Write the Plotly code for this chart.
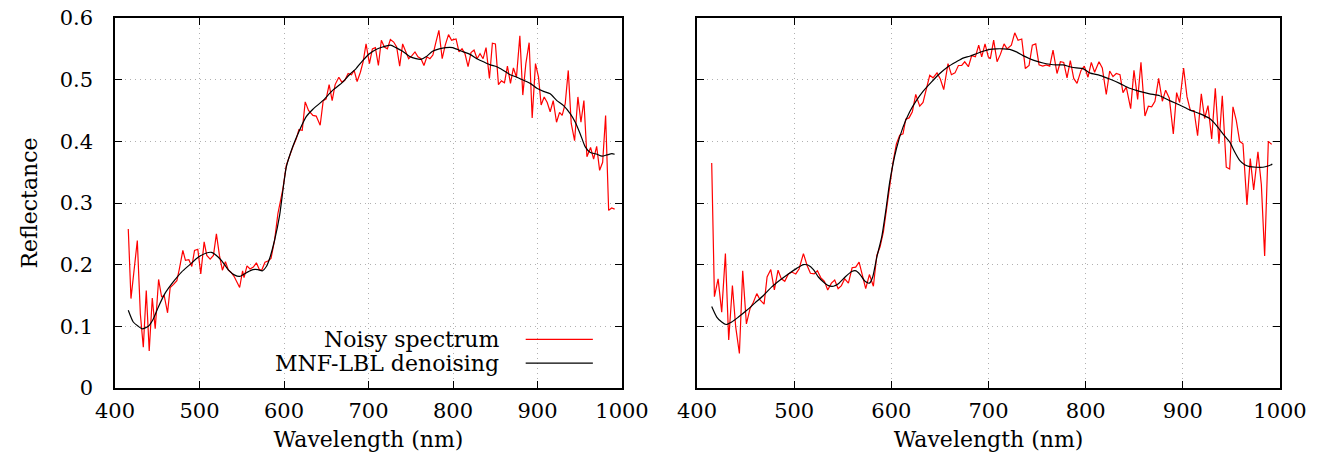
import plotly.graph_objects as go
from plotly.subplots import make_subplots

# ---------------- data ----------------
wl_left_noisy = [415.7, 418.9, 426.4, 430.0, 433.5, 437.0, 440.5, 444.1, 447.6, 451.6, 455.1, 458.2,
                 462.2, 465.3, 469.3, 473.2, 476.0, 480.3, 483.4, 487.4, 490.9, 494.1, 498.0, 501.5,
                 505.5, 508.6, 512.6, 516.5, 520.0, 523.6, 527.1, 530.7, 534.2, 537.7, 541.3, 544.8,
                 547.5, 551.0, 552.7, 556.2, 559.8, 563.7, 567.3, 570.8, 573.6, 577.5, 581.0, 584.6,
                 588.9, 592.8, 598.7, 602.7, 606.6, 610.5, 614.5, 617.6, 621.6, 625.1, 629.0, 634.2,
                 638.1, 642.8, 646.4, 649.9, 653.4, 657.0, 660.5, 664.9, 668.4, 671.9, 675.9, 679.8,
                 683.0, 686.5, 690.4, 693.6, 697.1, 701.1, 704.6, 708.1, 711.7, 715.2, 718.8, 722.3,
                 725.9, 729.8, 733.3, 736.9, 740.4, 744.0, 747.5, 751.4, 755.0, 758.5, 762.1, 765.6,
                 769.1, 772.7, 776.2, 779.8, 783.3, 787.2, 790.8, 794.7, 798.3, 803.6, 807.1, 810.7,
                 814.2, 817.8, 821.3, 824.9, 828.5, 832.0, 835.6, 839.1, 843.1, 846.6, 850.2, 853.8,
                 857.3, 860.9, 864.4, 868.0, 871.5, 875.1, 879.1, 882.6, 886.2, 890.1, 893.7, 897.6,
                 901.2, 904.3, 907.9, 911.5, 915.0, 918.6, 922.5, 926.1, 929.2, 932.8, 936.4, 939.9,
                 943.9, 947.8, 951.4, 954.9, 958.5, 962.8, 966.4, 970.0, 973.5, 977.1, 980.6, 984.2,
                 987.7, 991.3]
left_noisy = [0.258, 0.145, 0.239, 0.120, 0.066, 0.158, 0.060, 0.146, 0.096, 0.176, 0.148, 0.150,
              0.122, 0.163, 0.168, 0.174, 0.192, 0.223, 0.207, 0.208, 0.197, 0.223, 0.225, 0.185,
              0.237, 0.215, 0.209, 0.215, 0.250, 0.215, 0.191, 0.205, 0.191, 0.187, 0.180, 0.170,
              0.163, 0.190, 0.179, 0.198, 0.193, 0.196, 0.203, 0.192, 0.191, 0.204, 0.206, 0.210,
              0.240, 0.283, 0.323, 0.361, 0.377, 0.391, 0.404, 0.419, 0.418, 0.464, 0.450, 0.442,
              0.441, 0.426, 0.466, 0.469, 0.492, 0.466, 0.492, 0.504, 0.496, 0.499, 0.510, 0.508,
              0.515, 0.497, 0.512, 0.529, 0.558, 0.526, 0.550, 0.552, 0.523, 0.564, 0.553, 0.550,
              0.565, 0.561, 0.553, 0.522, 0.558, 0.545, 0.534, 0.539, 0.545, 0.537, 0.534, 0.523,
              0.537, 0.534, 0.540, 0.561, 0.580, 0.534, 0.556, 0.573, 0.564, 0.566, 0.545, 0.550,
              0.542, 0.521, 0.544, 0.548, 0.534, 0.542, 0.534, 0.552, 0.502, 0.559, 0.558, 0.492,
              0.498, 0.495, 0.522, 0.494, 0.519, 0.504, 0.571, 0.475, 0.526, 0.560, 0.438, 0.526,
              0.504, 0.459, 0.472, 0.463, 0.448, 0.466, 0.431, 0.447, 0.442, 0.461, 0.515, 0.429,
              0.401, 0.472, 0.431, 0.466, 0.375, 0.390, 0.371, 0.392, 0.353, 0.366, 0.442, 0.288,
              0.292, 0.290]

wl_left_denoised = [415.7, 421.6, 427.5, 432.3, 439.4, 445.3, 451.2, 459.0, 468.9, 478.7, 488.5, 498.4,
                    508.2, 514.1, 518.1, 525.9, 533.8, 541.7, 547.6, 555.5, 563.3, 569.2, 574.3, 579.1,
                    583.0, 588.9, 594.8, 602.7, 610.5, 618.4, 626.3, 634.2, 646.0, 657.8, 669.6, 677.4,
                    685.3, 693.2, 701.1, 708.9, 716.8, 725.9, 732.5, 740.4, 748.3, 756.2, 762.1, 768.0,
                    775.8, 783.7, 791.6, 799.4, 812.3, 820.2, 828.1, 836.0, 843.9, 851.8, 859.7, 867.6,
                    875.5, 883.4, 891.3, 899.2, 907.1, 915.0, 922.9, 930.8, 938.7, 944.7, 950.6, 956.5,
                    962.5, 970.4, 976.3, 982.2, 988.1, 991.3]
left_denoised = [0.126, 0.107, 0.100, 0.096, 0.100, 0.112, 0.131, 0.153, 0.172, 0.188, 0.200, 0.212,
                 0.219, 0.220, 0.217, 0.207, 0.192, 0.183, 0.181, 0.187, 0.192, 0.192, 0.190, 0.197,
                 0.210, 0.240, 0.280, 0.358, 0.392, 0.418, 0.440, 0.452, 0.466, 0.483, 0.496, 0.508,
                 0.518, 0.531, 0.542, 0.549, 0.553, 0.556, 0.552, 0.546, 0.538, 0.534, 0.533, 0.537,
                 0.546, 0.550, 0.552, 0.552, 0.545, 0.541, 0.534, 0.529, 0.524, 0.521, 0.515, 0.508,
                 0.504, 0.499, 0.494, 0.486, 0.481, 0.477, 0.466, 0.458, 0.445, 0.431, 0.412, 0.391,
                 0.382, 0.379, 0.376, 0.378, 0.380, 0.379]

wl_right_noisy = [415.1, 417.9, 421.7, 425.4, 429.2, 432.6, 436.4, 439.8, 443.6, 447.0, 450.8, 454.6,
                  458.0, 461.5, 464.9, 469.0, 472.1, 475.9, 479.6, 483.4, 486.8, 490.3, 494.0, 497.5,
                  501.6, 505.0, 509.5, 513.2, 516.7, 520.5, 523.9, 527.3, 531.1, 534.5, 538.3, 541.7,
                  545.2, 548.6, 552.0, 555.8, 559.6, 563.3, 566.8, 570.2, 573.6, 577.4, 581.5, 585.0,
                  588.4, 591.8, 595.0, 598.3, 601.7, 605.2, 608.6, 612.0, 614.8, 618.2, 621.6, 625.1,
                  629.2, 632.6, 636.0, 639.5, 642.9, 647.0, 650.4, 653.9, 658.3, 661.8, 665.5, 669.0,
                  672.4, 675.5, 679.3, 682.7, 686.5, 689.9, 693.0, 696.4, 699.8, 701.9, 705.3, 708.8,
                  712.2, 716.0, 719.1, 723.5, 727.0, 730.4, 734.2, 737.9, 741.7, 745.1, 748.6, 752.0,
                  755.8, 759.5, 763.0, 766.4, 770.5, 774.0, 777.4, 780.8, 784.2, 787.7, 791.1, 795.2,
                  798.6, 802.4, 805.8, 809.2, 813.7, 817.1, 821.2, 824.7, 828.1, 831.5, 835.3, 838.4,
                  841.8, 846.3, 849.7, 853.5, 856.9, 861.0, 864.5, 867.9, 871.3, 875.1, 878.9, 882.3,
                  886.1, 890.2, 893.6, 896.7, 900.8, 904.3, 907.7, 911.5, 915.2, 919.0, 922.4, 925.9,
                  929.7, 933.4, 937.2, 940.6, 944.7, 948.2, 951.6, 955.0, 958.5, 961.9, 966.0, 969.4,
                  972.9, 977.3, 980.8, 984.2, 988.0, 991.4]
right_noisy = [0.365, 0.148, 0.177, 0.123, 0.218, 0.078, 0.166, 0.099, 0.056, 0.190, 0.104, 0.129,
               0.139, 0.153, 0.143, 0.136, 0.180, 0.192, 0.159, 0.191, 0.177, 0.173, 0.185, 0.188,
               0.185, 0.193, 0.218, 0.199, 0.186, 0.185, 0.190, 0.179, 0.173, 0.159, 0.170, 0.175,
               0.161, 0.166, 0.177, 0.170, 0.195, 0.196, 0.204, 0.183, 0.161, 0.184, 0.165, 0.215,
               0.229, 0.253, 0.290, 0.329, 0.366, 0.396, 0.410, 0.412, 0.436, 0.438, 0.448, 0.476,
               0.457, 0.463, 0.483, 0.507, 0.503, 0.511, 0.501, 0.484, 0.526, 0.508, 0.511, 0.523,
               0.523, 0.529, 0.521, 0.539, 0.537, 0.556, 0.537, 0.558, 0.537, 0.534, 0.564, 0.529,
               0.541, 0.558, 0.550, 0.556, 0.576, 0.564, 0.566, 0.518, 0.523, 0.556, 0.558, 0.524,
               0.522, 0.524, 0.522, 0.548, 0.510, 0.529, 0.528, 0.503, 0.531, 0.502, 0.494, 0.515,
               0.522, 0.504, 0.528, 0.512, 0.529, 0.519, 0.476, 0.514, 0.505, 0.510, 0.508, 0.479,
               0.488, 0.453, 0.515, 0.468, 0.528, 0.441, 0.457, 0.456, 0.465, 0.502, 0.465, 0.483,
               0.470, 0.412, 0.479, 0.463, 0.519, 0.472, 0.450, 0.450, 0.409, 0.477, 0.437, 0.458,
               0.404, 0.486, 0.396, 0.474, 0.358, 0.355, 0.456, 0.434, 0.400, 0.396, 0.297, 0.372,
               0.321, 0.383, 0.330, 0.214, 0.400, 0.395]

wl_right_denoised = [415.1, 420.3, 425.4, 429.9, 435.7, 442.6, 451.2, 459.7, 468.3, 476.9, 485.5, 494.0,
                     502.6, 509.5, 514.6, 519.8, 524.9, 530.1, 535.2, 540.4, 545.5, 552.4, 559.2, 563.7,
                     567.8, 572.9, 577.4, 580.8, 585.0, 590.1, 594.5, 598.3, 605.2, 612.0, 618.9, 625.7,
                     632.6, 641.2, 649.8, 658.3, 666.9, 673.8, 680.6, 687.5, 694.4, 701.2, 708.1, 715.0,
                     721.8, 728.7, 735.5, 742.4, 749.2, 756.1, 763.0, 769.8, 776.7, 783.6, 790.4, 797.3,
                     804.1, 814.4, 824.7, 835.0, 845.3, 855.5, 865.8, 876.1, 886.4, 896.7, 907.0, 917.3,
                     927.6, 934.5, 941.3, 948.2, 953.3, 958.5, 963.6, 968.8, 975.6, 982.5, 987.6, 992.1]
right_denoised = [0.132, 0.115, 0.107, 0.103, 0.107, 0.115, 0.126, 0.138, 0.150, 0.164, 0.175, 0.185,
                  0.194, 0.200, 0.199, 0.192, 0.180, 0.172, 0.166, 0.165, 0.169, 0.180, 0.189, 0.190,
                  0.184, 0.173, 0.170, 0.180, 0.212, 0.245, 0.290, 0.334, 0.388, 0.423, 0.448, 0.466,
                  0.481, 0.496, 0.510, 0.521, 0.529, 0.535, 0.538, 0.542, 0.546, 0.549, 0.550, 0.550,
                  0.549, 0.545, 0.539, 0.534, 0.530, 0.527, 0.525, 0.524, 0.524, 0.521, 0.519, 0.518,
                  0.511, 0.507, 0.501, 0.494, 0.486, 0.481, 0.477, 0.474, 0.466, 0.459, 0.451, 0.445,
                  0.437, 0.426, 0.412, 0.399, 0.383, 0.369, 0.362, 0.359, 0.358, 0.358, 0.360, 0.363]

x_ticks = [400, 500, 600, 700, 800, 900, 1000]
y_ticks = [0, 0.1, 0.2, 0.3, 0.4, 0.5, 0.6]
y_tick_text = ["0", "0.1", "0.2", "0.3", "0.4", "0.5", "0.6"]
legend_names = ["Noisy spectrum", "MNF-LBL denoising"]
x_title = "Wavelength (nm)"
y_title = "Reflectance"

NOISY_COLOR = "#ff0000"
DENOISED_COLOR = "#000000"
FONT = "DejaVu Serif"
FS_TICK = 21
FS_TITLE = 22
FS_KEY = 22

# ---------------- figure ----------------
fig = make_subplots(rows=1, cols=2, horizontal_spacing=0.0)

for col, (wn, yn, wd, yd) in enumerate([
        (wl_left_noisy, left_noisy, wl_left_denoised, left_denoised),
        (wl_right_noisy, right_noisy, wl_right_denoised, right_denoised)], start=1):
    fig.add_trace(go.Scatter(x=wn, y=yn, mode="lines", name=legend_names[0],
                             line=dict(color=NOISY_COLOR, width=1.2), showlegend=False),
                  row=1, col=col)
    fig.add_trace(go.Scatter(x=wd, y=yd, mode="lines", name=legend_names[1],
                             line=dict(color=DENOISED_COLOR, width=1.2, shape="spline", smoothing=0.6),
                             showlegend=False),
                  row=1, col=col)

axis_common = dict(
    showline=True, linecolor="black", linewidth=1.5, mirror="ticks",
    ticks="inside", ticklen=7, tickwidth=1.2, tickcolor="black",
    showgrid=True, gridcolor="#b0b0b0", griddash="1px,4px", gridwidth=1,
    zeroline=False, automargin=False,
    tickfont=dict(family=FONT, size=FS_TICK, color="black"),
)

fig.update_xaxes(**axis_common, range=[400, 1000], tickvals=x_ticks,
                 ticklabelstandoff=3,
                 title=dict(text=x_title, font=dict(family=FONT, size=FS_TITLE, color="black"), standoff=10))
fig.update_yaxes(**axis_common, range=[0, 0.6], tickvals=y_ticks, ticktext=y_tick_text,
                 ticklabelstandoff=16, ticklabeloverflow="allow")
fig.update_yaxes(title=dict(text=y_title, font=dict(family=FONT, size=FS_TITLE, color="black"), standoff=16),
                 row=1, col=1)
fig.update_yaxes(showticklabels=False, row=1, col=2)

fig.update_layout(
    xaxis=dict(domain=[0.0, 0.4352]),
    xaxis2=dict(domain=[0.4996, 1.0]),
    yaxis=dict(domain=[0.0, 1.0]),
    yaxis2=dict(domain=[0.0, 1.0]),
)

# key drawn inside the left panel: text right-aligned, line sample on its right
key_rows = [(legend_names[0], NOISY_COLOR, 0.0790), (legend_names[1], DENOISED_COLOR, 0.0405)]
for name, color, yk in key_rows:
    fig.add_annotation(x=857, y=yk, xref="x", yref="y", text=name, showarrow=False,
                       xanchor="right", yanchor="middle",
                       font=dict(family=FONT, size=FS_KEY, color="black"))
    fig.add_shape(type="line", xref="x", yref="y", x0=886, x1=965.5, y0=yk, y1=yk,
                  line=dict(color=color, width=1.2))

fig.update_layout(
    width=1324, height=462,
    margin=dict(l=115, r=44, t=17.5, b=74.3),
    paper_bgcolor="white", plot_bgcolor="white",
    font=dict(family=FONT, size=FS_TICK, color="black"),
    showlegend=False,
)

fig.write_html("out.html", config={"displayModeBar": False},
               post_script="document.body.style.margin='0px';")
